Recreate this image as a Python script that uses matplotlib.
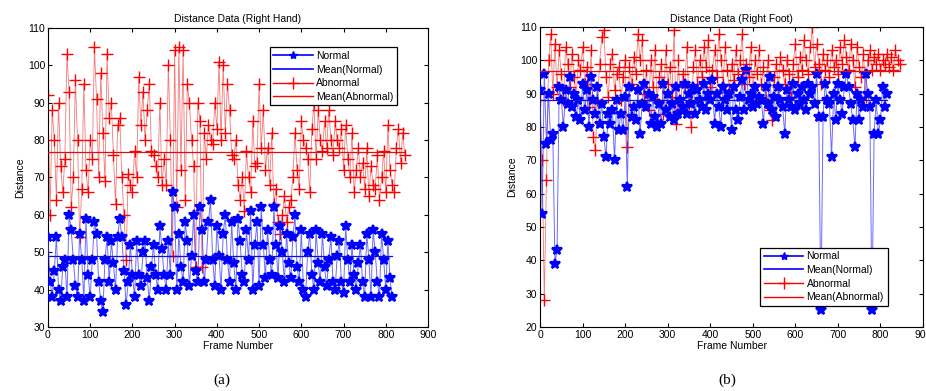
import matplotlib
matplotlib.use("Agg")
import matplotlib.pyplot as plt
import numpy as np

plt.rcParams['font.family'] = ['Liberation Sans', 'DejaVu Sans']

step = 5  # frames between samples

# (a) right hand
hand_normal = [54, 42, 38, 45, 54, 40, 37, 46, 48, 38, 60, 56, 48, 41, 38, 55, 48, 37, 59, 44,
               38, 48, 58, 55, 42, 37, 34, 48, 54, 42, 53, 47, 40, 54, 59, 54, 45, 36, 42, 52,
               44, 38, 53, 44, 41, 50, 53, 43, 37, 46, 52, 44, 40, 57, 51, 44, 40, 53, 44, 66,
               62, 40, 55, 46, 42, 58, 53, 41, 49, 60, 45, 42, 62, 56, 42, 48, 58, 64, 48, 41,
               57, 49, 40, 55, 60, 48, 42, 58, 47, 40, 59, 53, 44, 42, 56, 48, 61, 40, 52, 58,
               41, 62, 52, 43, 56, 48, 44, 62, 52, 43, 57, 50, 42, 55, 47, 43, 54, 60, 46, 42,
               56, 40, 38, 50, 55, 44, 40, 56, 47, 42, 55, 46, 41, 48, 54, 42, 40, 49, 53, 42,
               39, 57, 48, 42, 52, 44, 40, 47, 52, 42, 38, 55, 48, 38, 56, 50, 42, 38, 55, 48,
               40, 53, 43, 38]
hand_abnormal = [92, 60, 88, 80, 64, 90, 73, 66, 75, 103, 93, 62, 70, 96, 80, 54, 67, 95, 72, 66,
                 80, 75, 105, 91, 70, 98, 82, 69, 103, 86, 90, 76, 63, 84, 86, 70, 60, 48, 71, 68,
                 66, 77, 70, 97, 84, 93, 80, 88, 95, 77, 76, 73, 70, 90, 68, 75, 68, 100, 80, 49,
                 104, 62, 105, 72, 104, 64, 95, 90, 80, 73, 46, 90, 85, 46, 82, 75, 84, 80, 79, 90,
                 83, 101, 80, 100, 82, 95, 88, 76, 75, 80, 68, 64, 70, 61, 77, 70, 66, 85, 73, 74,
                 95, 78, 88, 72, 78, 68, 82, 63, 67, 58, 55, 60, 65, 58, 62, 64, 70, 82, 72, 67,
                 85, 80, 78, 75, 66, 83, 90, 75, 88, 80, 77, 85, 78, 88, 80, 76, 85, 80, 78, 83,
                 72, 84, 75, 70, 82, 66, 72, 78, 70, 74, 67, 78, 65, 73, 68, 67, 76, 64, 70, 77,
                 66, 84, 72, 68, 66, 78, 83, 74, 82, 76]
hand_mean_normal = 49.0
hand_mean_abnormal = 76.8

# (b) right foot
foot_normal = [91, 54, 96, 75, 90, 76, 78, 39, 43, 92, 88, 80, 91, 87, 95, 86, 90, 83, 88, 82,
               93, 85, 91, 80, 95, 88, 84, 92, 81, 87, 77, 71, 84, 81, 85, 70, 88, 79, 84, 79,
               89, 62, 92, 83, 86, 82, 91, 78, 87, 93, 86, 90, 81, 89, 83, 80, 87, 81, 93, 85,
               90, 83, 87, 82, 92, 84, 88, 86, 93, 84, 90, 87, 92, 84, 91, 88, 86, 93, 85, 90,
               88, 94, 81, 90, 86, 80, 92, 88, 85, 90, 79, 92, 85, 82, 89, 94, 85, 97, 88, 90,
               86, 92, 87, 89, 88, 81, 92, 87, 95, 85, 89, 83, 92, 88, 86, 78, 91, 88, 86, 93,
               85, 90, 87, 92, 88, 85, 93, 90, 92, 87, 96, 83, 25, 83, 93, 88, 87, 71, 90, 82,
               93, 88, 84, 92, 96, 92, 87, 82, 74, 90, 82, 88, 86, 96, 90, 86, 25, 78, 88, 78,
               82, 92, 86, 90]
foot_abnormal = [88, 70, 28, 64, 100, 108, 90, 105, 92, 103, 96, 88, 104, 99, 92, 102, 95, 89, 100, 97,
                 104, 93, 98, 86, 103, 77, 73, 88, 99, 107, 109, 95, 89, 99, 102, 91, 96, 98, 88, 95,
                 100, 74, 98, 93, 101, 96, 108, 100, 106, 90, 97, 85, 100, 92, 103, 88, 95, 99, 84, 103,
                 93, 98, 89, 109, 81, 100, 85, 96, 92, 104, 87, 80, 98, 103, 93, 100, 95, 104, 98, 106,
                 92, 97, 103, 95, 108, 100, 93, 104, 97, 91, 99, 94, 103, 96, 100, 108, 93, 99, 95, 104,
                 90, 100, 96, 103, 93, 98, 88, 100, 85, 82, 95, 99, 92, 101, 97, 93, 100, 96, 89, 99,
                 105, 95, 101, 97, 106, 100, 96, 104, 110, 98, 105, 99, 93, 102, 97, 100, 95, 103, 98, 100,
                 96, 104, 99, 106, 101, 97, 105, 100, 92, 104, 98, 95, 102, 89, 100, 103, 97, 101, 99, 102,
                 97, 100, 99, 102, 98, 101, 97, 103, 100, 99]
foot_mean_normal = 88.0
foot_mean_abnormal = 96.8

labels = ['Normal', 'Mean(Normal)', 'Abnormal', 'Mean(Abnormal)']

fig = plt.figure(figsize=(9.26, 3.91), dpi=100)
ax1 = fig.add_axes([0.0518, 0.1637, 0.4104, 0.7647])
ax2 = fig.add_axes([0.5832, 0.1637, 0.4136, 0.767])


def draw(ax, normal, abnormal, mn, ma, title, ylim, leg_loc, leg_anchor):
    xn = np.arange(len(normal)) * step
    xa = np.arange(len(abnormal)) * step
    ax.plot(xn, normal, '-', color='#3a3aff', lw=0.7, alpha=0.75, zorder=3)
    ax.plot(xn, normal, '*', color='blue', ms=7.5, mew=1.6, zorder=3)
    ax.plot([xn[0], xn[-1]], [mn, mn], '-', color='#1010d0', lw=0.9, zorder=4)
    ax.plot(xa, abnormal, '-', color='#f04040', lw=0.6, alpha=0.7, zorder=2)
    ax.plot(xa, abnormal, '+', color='red', ms=9, mew=1.0, zorder=2)
    ax.plot([xa[0], xa[-1]], [ma, ma], '-', color='#d81010', lw=0.9, zorder=4)
    h = [plt.Line2D([], [], color='blue', marker='*', lw=1.2, ms=6),
         plt.Line2D([], [], color='blue', lw=1.2),
         plt.Line2D([], [], color='red', marker='+', lw=1.0, ms=8),
         plt.Line2D([], [], color='red', lw=1.0)]
    leg = ax.legend(h, labels, loc=leg_loc, bbox_to_anchor=leg_anchor, fancybox=False,
                    edgecolor='black', framealpha=1, fontsize=7.5, handlelength=3.8,
                    labelspacing=0.35, borderpad=0.35, handletextpad=0.3)
    leg.get_frame().set_linewidth(0.9)
    leg.set_zorder(10)
    ax.set_xlim(0, 900)
    ax.set_ylim(*ylim)
    ax.set_xticks(np.arange(0, 901, 100))
    ax.set_yticks(np.arange(ylim[0], ylim[1] + 1, 10))
    ax.tick_params(direction='in', top=True, right=True, labelsize=7.5, length=3, pad=2)
    ax.set_title(title, fontsize=7.5, pad=4)
    ax.set_xlabel('Frame Number', fontsize=7.5, labelpad=1)
    ax.set_ylabel('Distance', fontsize=7.5, labelpad=2)
    for s in ax.spines.values():
        s.set_linewidth(0.8)


draw(ax1, hand_normal, hand_abnormal, hand_mean_normal, hand_mean_abnormal,
     'Distance Data (Right Hand)', (30, 110), 'upper right', (0.932, 0.953))
draw(ax2, foot_normal, foot_abnormal, foot_mean_normal, foot_mean_abnormal,
     'Distance Data (Right Foot)', (20, 110), 'lower right', (0.921, 0.053))

fig.text(222 / 926, 1 - 380 / 391, '(a)', ha='center', va='center', fontsize=11, family='Liberation Serif')
fig.text(727 / 926, 1 - 380 / 391, '(b)', ha='center', va='center', fontsize=11, family='Liberation Serif')

fig.savefig('out.png', dpi=100)
